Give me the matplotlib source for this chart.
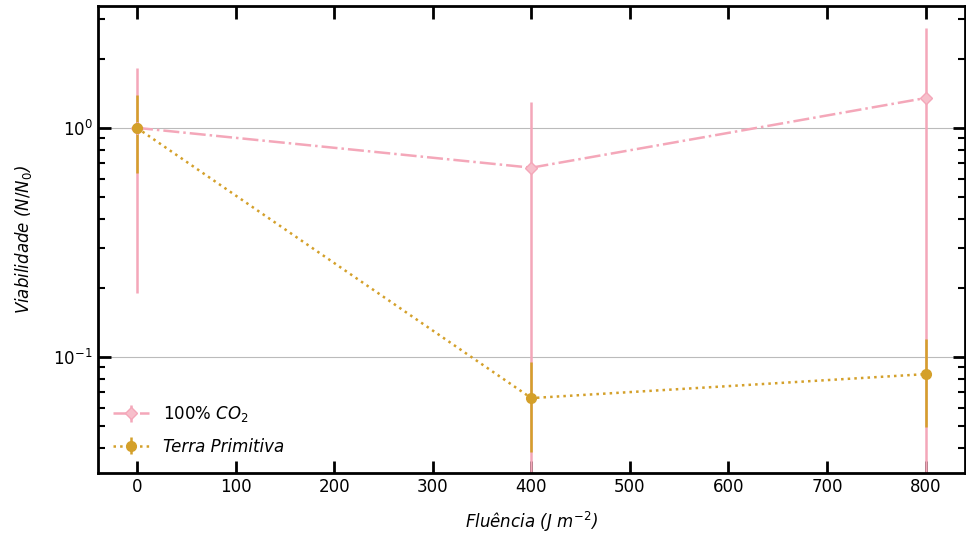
import numpy as np
import matplotlib.pyplot as plt
from matplotlib.ticker import LogLocator, NullFormatter

# ------ DATA ------
fluence = [0, 400, 800]

# 100% CO2
co2_y = [1.0, 0.67, 1.35]
co2_hi = [1.83, 1.30, 2.73]    # upper end of error bar
co2_lo = [0.19, 0.02, 0.02]    # lower end (below the bottom of the axis)

# Terra Primitiva
tp_y = [1.0, 0.066, 0.084]
tp_hi = [1.39, 0.095, 0.119]
tp_lo = [0.636, 0.0385, 0.0494]

co2_y, co2_hi, co2_lo = np.array(co2_y), np.array(co2_hi), np.array(co2_lo)
tp_y, tp_hi, tp_lo = np.array(tp_y), np.array(tp_hi), np.array(tp_lo)

pink = '#F4A7B9'
gold = '#D4A02A'

# ------ PLOT ------
fig = plt.figure(figsize=(9.66, 5.38), dpi=100)
ax = fig.add_axes([0.101, 0.121, 0.898, 0.868])

ax.errorbar(fluence, co2_y, yerr=[co2_y - co2_lo, co2_hi - co2_y],
            color=pink, ls='-.', lw=1.8, marker='D', ms=6,
            mfc='#F7BFCB', mec=pink, elinewidth=1.8, capsize=0,
            label=r'100% $CO_2$')
ax.errorbar(fluence, tp_y, yerr=[tp_y - tp_lo, tp_hi - tp_y],
            color=gold, ls=':', lw=1.8, marker='o', ms=7,
            mfc=gold, mec=gold, elinewidth=1.8, capsize=0,
            label='Terra Primitiva')

ax.set_yscale('log')
ax.set_xlim(-40, 840)
ax.set_ylim(0.0311, 3.41)

ax.yaxis.set_major_locator(LogLocator(base=10))
ax.yaxis.set_minor_locator(LogLocator(base=10, subs=np.arange(2, 10)))
ax.yaxis.set_minor_formatter(NullFormatter())
ax.set_xticks(np.arange(0, 801, 100))

ax.grid(axis='y', which='major', color='#bbbbbb', lw=0.8)

ax.tick_params(which='both', direction='in', top=True, right=True, labelsize=12)
ax.tick_params(which='major', length=9, width=2)
ax.tick_params(which='minor', length=5, width=1.5)
ax.tick_params(axis='x', which='minor', top=False, bottom=False)
for s in ax.spines.values():
    s.set_linewidth(2)

ax.set_xlabel(r'Fluência ($J\ m^{-2}$)', fontstyle='italic', fontsize=12, labelpad=10)
ax.set_ylabel(r'Viabilidade ($N/N_0$)', fontstyle='italic', fontsize=12, labelpad=14)

leg = ax.legend(loc='lower left', frameon=False, fontsize=12, handlelength=2.2,
                labelspacing=0.8, bbox_to_anchor=(0.0, 0.005))
for t in leg.get_texts():
    t.set_fontstyle('italic')
leg.get_texts()[0].set_fontstyle('normal')

fig.savefig('out.png', dpi=100)
